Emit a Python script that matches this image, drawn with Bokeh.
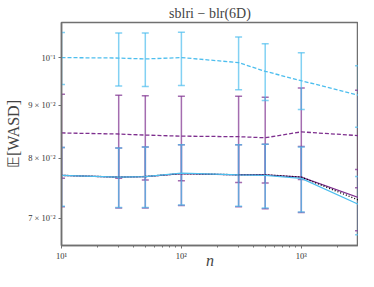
from bokeh.plotting import figure
from bokeh.models import ColumnDataSource, Whisker, TeeHead, FixedTicker, Range1d
from bokeh.embed import file_html
from bokeh.resources import INLINE

n_vals = [10, 30, 50, 100, 300, 500, 1000, 3000]

lb_dash = [0.1000, 0.0999, 0.0997, 0.1000, 0.0989, 0.0970, 0.0950, 0.0920]
lb_dash_hi = [0.1057, 0.1056, 0.1056, 0.1058, 0.1047, 0.1031, 0.1011, 0.0982]
lb_dash_lo = [0.0942, 0.0939, 0.0938, 0.0940, 0.0931, 0.0909, 0.0891, 0.0857]

pu_dash = [0.0846, 0.0844, 0.0842, 0.0840, 0.0839, 0.0837, 0.0848, 0.0841]
pu_dash_hi = [0.0922, 0.0920, 0.0919, 0.0918, 0.0918, 0.0916, 0.0935, 0.0930]
pu_dash_lo = [0.0765, 0.0765, 0.0762, 0.0761, 0.0758, 0.0757, 0.0763, 0.0749]

pu_sol = [0.0770, 0.0767, 0.0768, 0.0773, 0.0771, 0.0771, 0.0767, 0.0733]
pu_sol_hi = [0.0819, 0.0818, 0.0820, 0.0824, 0.0824, 0.0825, 0.0821, 0.0780]
pu_sol_lo = [0.0718, 0.0716, 0.0716, 0.0720, 0.0718, 0.0715, 0.0709, 0.0681]

lb_sol = [0.0770, 0.0767, 0.0768, 0.0774, 0.0771, 0.0770, 0.0765, 0.0722]
lb_sol_hi = [0.0819, 0.0818, 0.0820, 0.0824, 0.0824, 0.0825, 0.0820, 0.0768]
lb_sol_lo = [0.0719, 0.0717, 0.0717, 0.0721, 0.0719, 0.0716, 0.0710, 0.0675]

dotted_ref = [0.0770, 0.0767, 0.0768, 0.0773, 0.0771, 0.0771, 0.0767, 0.0729]

x_ticks = [10, 100, 1000]
x_tick_labels = ["10¹", "10²", "10³"]
x_minor = [20, 30, 40, 50, 60, 70, 80, 90, 200, 300, 400, 500, 600, 700, 800, 900, 2000, 3000]
y_ticks = [0.07, 0.08, 0.09, 0.1]
y_tick_labels = ["7 × 10⁻²", "8 × 10⁻²", "9 × 10⁻²", "10⁻¹"]

PURPLE = "#7E2F8E"
LBLUE = "#4DBEEE"
SERIF = "Liberation Serif"

p = figure(width=358, height=271, x_axis_type="log", y_axis_type="log",
           x_range=Range1d(10, 3000), y_range=Range1d(0.0659, 0.1081),
           output_backend="svg", toolbar_location=None,
           min_border_left=61, min_border_right=0, min_border_top=22, min_border_bottom=0)

p.title.text = "sblri − blr(6D)"
p.title.align = "center"
p.title.text_font = SERIF
p.title.text_font_size = "14px"
p.title.text_font_style = "normal"
p.title.standoff = 4

p.xgrid.visible = False
p.ygrid.visible = False
p.outline_line_color = "#707070"
p.outline_line_width = 1.5

for ax in (p.xaxis[0], p.yaxis[0]):
    ax.axis_line_color = "#707070"
    ax.axis_line_width = 1.5
    ax.major_tick_line_color = "#707070"
    ax.minor_tick_line_color = "#707070"
    ax.major_label_text_font = SERIF
    ax.major_label_text_font_size = "8.5px"
    ax.major_label_text_color = "#333333"
    ax.axis_label_text_font = SERIF
    ax.axis_label_text_font_style = "normal"
    ax.major_tick_out = 3
    ax.major_tick_in = 0
    ax.minor_tick_out = 2
    ax.minor_tick_in = 0

p.xaxis.ticker = FixedTicker(ticks=x_ticks, minor_ticks=x_minor)
p.xaxis.major_label_overrides = dict(zip(x_ticks, x_tick_labels))
p.yaxis.ticker = FixedTicker(ticks=y_ticks, minor_ticks=[])
p.yaxis.major_label_overrides = dict(zip(y_ticks, y_tick_labels))
p.xaxis.major_label_standoff = 2
p.xaxis.axis_label = "n"
p.xaxis.axis_label_text_font_style = "italic"
p.xaxis.axis_label_text_font_size = "16px"
p.xaxis.axis_label_standoff = -12
p.yaxis.axis_label = "𝔼[WASD]"
p.yaxis.axis_label_text_font_size = "16px"
p.yaxis.axis_label_standoff = 3
p.yaxis.major_label_standoff = 3


def add_series(y, lo, hi, color, dash, width=1.3):
    src = ColumnDataSource(dict(x=n_vals, y=y, lo=lo, hi=hi))
    w = Whisker(base="x", upper="hi", lower="lo", source=src, dimension="height",
                line_color=color, line_width=1.5, line_alpha=0.7,
                upper_head=TeeHead(size=7, line_color=color, line_width=1.5, line_alpha=0.7),
                lower_head=TeeHead(size=7, line_color=color, line_width=1.5, line_alpha=0.7))
    p.add_layout(w)
    p.line("x", "y", source=src, line_color=color, line_width=width, line_dash=dash)


add_series(pu_dash, pu_dash_lo, pu_dash_hi, PURPLE, "4 2")
add_series(lb_dash, lb_dash_lo, lb_dash_hi, LBLUE, "4 2")
add_series(pu_sol, pu_sol_lo, pu_sol_hi, PURPLE, "solid")
p.line(n_vals, dotted_ref, line_color="black", line_width=1.4, line_dash="1 2")
add_series(lb_sol, lb_sol_lo, lb_sol_hi, LBLUE, "solid")

open("out.html", "w").write(file_html(p, INLINE))
